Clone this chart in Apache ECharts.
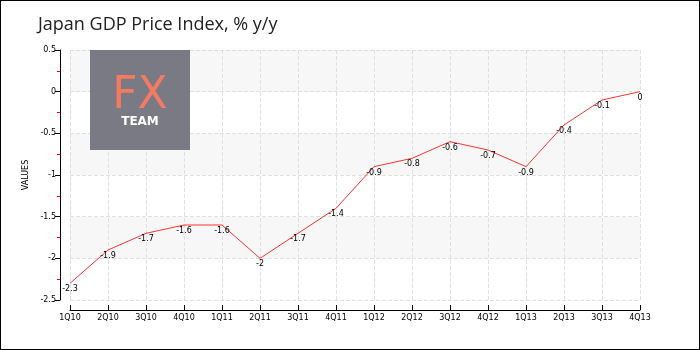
<!DOCTYPE html>
<html><head><meta charset="utf-8">
<script src="https://cdn.jsdelivr.net/npm/echarts@6/dist/echarts.min.js"></script>
<style>
html,body{margin:0;padding:0;background:#fff;}
#wrap{width:700px;height:350px;position:relative;overflow:hidden;}
#c{position:absolute;left:0;top:0;width:700px;height:350px;}
#frame{position:absolute;left:0;top:0;width:700px;height:350px;box-sizing:border-box;border:1.5px solid #000;pointer-events:none;}
</style></head>
<body><div id="wrap"><div id="c"></div><div id="frame"></div></div>
<script>
const categories = ['1Q10','2Q10','3Q10','4Q10','1Q11','2Q11','3Q11','4Q11','1Q12','2Q12','3Q12','4Q12','1Q13','2Q13','3Q13','4Q13'];
const values = [-2.3,-1.9,-1.7,-1.6,-1.6,-2,-1.7,-1.4,-0.9,-0.8,-0.6,-0.7,-0.9,-0.4,-0.1,0];
const titleText = 'Japan GDP Price Index, % y/y';
const yName = 'VALUES';
const yMin = -2.5, yMax = 0.5;

const chart = echarts.init(document.getElementById('c'));
chart.setOption({
  animation:false,
  title:{text:titleText,left:33,top:11,textStyle:{fontFamily:'Open Sans',fontWeight:'normal',fontSize:18,color:'#222'}},
  grid:{left:70,right:60,top:50,bottom:50},
  xAxis:{type:'category',data:categories,boundaryGap:false,offset:10,
    axisLine:{onZero:false,lineStyle:{color:'#000',width:1}},
    axisTick:{inside:true,length:5,lineStyle:{color:'#000'}},
    axisLabel:{color:'#000',fontSize:8,fontFamily:'DejaVu Sans',margin:4},
    splitLine:{show:true,lineStyle:{type:'dashed',color:'#e0e0e0'}}},
  yAxis:{type:'value',min:yMin,max:yMax,interval:0.5,offset:10,
    name:yName,nameLocation:'middle',nameGap:24,nameTextStyle:{fontSize:8,fontFamily:'DejaVu Sans',color:'#000'},
    axisLine:{show:true,onZero:false,lineStyle:{color:'#000',width:1}},
    axisTick:{show:true,length:5,lineStyle:{color:'#000'}},
    minorTick:{show:true,splitNumber:2,length:3,lineStyle:{color:'#ff0000'}},
    axisLabel:{color:'#000',fontSize:8,fontFamily:'DejaVu Sans',margin:4},
    splitLine:{show:true,lineStyle:{type:'dashed',color:'#e0e0e0'}},
    splitArea:{show:true,areaStyle:{color:['#ffffff','#f7f7f7']}}},
  series:[{type:'line',data:values,symbol:'circle',symbolSize:2,showSymbol:true,
    itemStyle:{color:'rgba(0,0,0,0)',borderWidth:0},
    lineStyle:{color:'#ff3333',width:1},
    labelLayout:{hideOverlap:false},
    label:{show:true,position:'bottom',distance:1,fontSize:8,fontFamily:'DejaVu Sans',color:'#000'}}],
  graphic:[
    {type:'rect',shape:{x:90,y:50,width:100,height:100},style:{fill:'rgba(115,115,125,0.95)'},z:10},
    {type:'text',x:140,y:97,style:{text:'FX',fill:'#f47a62',font:'normal 44px "DejaVu Sans"',align:'center',verticalAlign:'middle'},z:11},
    {type:'text',x:140,y:122,style:{text:'TEAM',fill:'#fff',font:'bold 12px "DejaVu Sans"',align:'center',verticalAlign:'middle'},z:11}
  ]
});
// y-axis line derived from the chart's own scales (axis offset 10px left of the grid)
const x0 = chart.convertToPixel({xAxisIndex:0}, 0) - 10;
const yTop = chart.convertToPixel({yAxisIndex:0}, yMax);
const yBot = chart.convertToPixel({yAxisIndex:0}, yMin);
chart.setOption({graphic:[{type:'line',id:'yline',shape:{x1:Math.round(x0)+0.5,y1:yTop,x2:Math.round(x0)+0.5,y2:yBot},style:{stroke:'#000',lineWidth:1},z:20}]});
</script></body></html>
